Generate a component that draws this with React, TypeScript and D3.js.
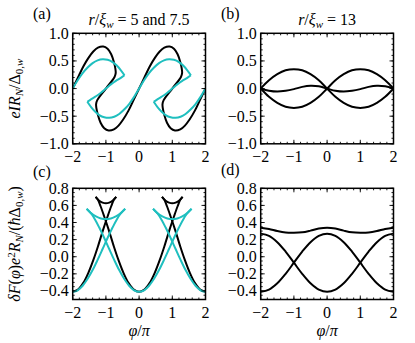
import React from "react";
import * as d3 from "d3";

type Pt = [number, number];

// axis ticks
const PHI_TICKS = [-2, -1, 0, 1, 2];
const CURRENT_TICKS = [-1, -0.5, 0, 0.5, 1];
const ENERGY_TICKS = [-0.4, -0.2, 0, 0.2, 0.4, 0.6, 0.8];

// (a) current-phase relation, black curve (one continuous multivalued curve)
const currentBlack: Pt[] = [
  [-2, 0], [-1.84, 0.2], [-1.68, 0.4], [-1.52, 0.56], [-1.38, 0.67], [-1.24, 0.74], [-1.08, 0.76],
  [-0.95, 0.72], [-0.84, 0.62], [-0.76, 0.48], [-0.715, 0.36], [-0.705, 0.28], [-0.74, 0.21],
  [-1, 0], [-1.26, -0.21], [-1.295, -0.28], [-1.285, -0.36], [-1.24, -0.48], [-1.16, -0.62],
  [-1.05, -0.72], [-0.92, -0.76], [-0.76, -0.74], [-0.62, -0.67], [-0.48, -0.56], [-0.32, -0.4],
  [-0.16, -0.2], [0, 0], [0.16, 0.2], [0.32, 0.4], [0.48, 0.56], [0.62, 0.67], [0.76, 0.74],
  [0.92, 0.76], [1.05, 0.72], [1.16, 0.62], [1.24, 0.48], [1.285, 0.36], [1.295, 0.28], [1.26, 0.21],
  [1, 0], [0.74, -0.21], [0.705, -0.28], [0.715, -0.36], [0.76, -0.48], [0.84, -0.62], [0.95, -0.72],
  [1.08, -0.76], [1.24, -0.74], [1.38, -0.67], [1.52, -0.56], [1.68, -0.4], [1.84, -0.2], [2, 0],
];

// (a) cyan curve, split at its sharp corners
const currentCyanUpperLeft: Pt[] = [
  [-2, 0], [-1.85, 0.15], [-1.7, 0.28], [-1.55, 0.38], [-1.4, 0.46], [-1.25, 0.51], [-1.1, 0.53],
  [-0.95, 0.52], [-0.8, 0.48], [-0.68, 0.42], [-0.56, 0.34], [-0.44, 0.24],
];
const currentCyanInnerLeft: Pt[] = [
  [-0.44, 0.24], [-0.56, 0.19], [-0.7, 0.14], [-0.85, 0.075], [-1, 0], [-1.15, -0.075], [-1.3, -0.14],
  [-1.44, -0.19], [-1.56, -0.24],
];
const currentCyanMiddle: Pt[] = [
  [-1.56, -0.24], [-1.44, -0.34], [-1.32, -0.42], [-1.2, -0.48], [-1.05, -0.52], [-0.9, -0.53],
  [-0.75, -0.51], [-0.6, -0.46], [-0.45, -0.38], [-0.3, -0.28], [-0.15, -0.15], [0, 0],
  [0.15, 0.15], [0.3, 0.28], [0.45, 0.38], [0.6, 0.46], [0.75, 0.51], [0.9, 0.53], [1.05, 0.52],
  [1.2, 0.48], [1.32, 0.42], [1.44, 0.34], [1.56, 0.24],
];
const currentCyanInnerRight: Pt[] = [
  [1.56, 0.24], [1.44, 0.19], [1.3, 0.14], [1.15, 0.075], [1, 0], [0.85, -0.075], [0.7, -0.14],
  [0.56, -0.19], [0.44, -0.24],
];
const currentCyanLowerRight: Pt[] = [
  [0.44, -0.24], [0.56, -0.34], [0.68, -0.42], [0.8, -0.48], [0.95, -0.52], [1.1, -0.53],
  [1.25, -0.51], [1.4, -0.46], [1.55, -0.38], [1.7, -0.28], [1.85, -0.15], [2, 0],
];

// (b) current, r/xi = 13
const current13Big: Pt[] = [
  [-2, 0], [-1.75, 0.15], [-1.5, 0.26], [-1.25, 0.33], [-1, 0.35], [-0.75, 0.33], [-0.5, 0.26],
  [-0.25, 0.15], [0, 0], [0.25, -0.15], [0.5, -0.26], [0.75, -0.33], [1, -0.35], [1.25, -0.33],
  [1.5, -0.26], [1.75, -0.15], [2, 0],
];
const current13BigMirror: Pt[] = [
  [-2, 0], [-1.75, -0.15], [-1.5, -0.26], [-1.25, -0.33], [-1, -0.35], [-0.75, -0.33], [-0.5, -0.26],
  [-0.25, -0.15], [0, 0], [0.25, 0.15], [0.5, 0.26], [0.75, 0.33], [1, 0.35], [1.25, 0.33],
  [1.5, 0.26], [1.75, 0.15], [2, 0],
];
const current13Small: Pt[] = [
  [-2, 0], [-1.75, -0.04], [-1.5, -0.055], [-1.25, -0.04], [-1, -0.01], [-0.75, 0.03], [-0.5, 0.05],
  [-0.25, 0.04], [0, 0], [0.25, -0.04], [0.5, -0.055], [0.75, -0.04], [1, -0.01], [1.25, 0.03],
  [1.5, 0.05], [1.75, 0.04], [2, 0],
];

// (c) free energy, black: branches and swallowtail arcs
const energyBlackLeft: Pt[] = [
  [-2, -0.41], [-1.84, -0.384], [-1.68, -0.306], [-1.52, -0.18], [-1.38, -0.04], [-1.24, 0.12],
  [-1.08, 0.32], [-0.95, 0.47], [-0.84, 0.59], [-0.76, 0.665], [-0.69, 0.7],
];
const energyBlackArcLeft: Pt[] = [
  [-1.31, 0.7], [-1.2, 0.655], [-1.1, 0.633], [-1, 0.625], [-0.9, 0.633], [-0.8, 0.655], [-0.69, 0.7],
];
const energyBlackCentre: Pt[] = [
  [-1.31, 0.7], [-1.24, 0.665], [-1.16, 0.59], [-1.05, 0.47], [-0.92, 0.32], [-0.76, 0.12],
  [-0.62, -0.04], [-0.48, -0.18], [-0.32, -0.306], [-0.16, -0.384], [0, -0.41], [0.16, -0.384],
  [0.32, -0.306], [0.48, -0.18], [0.62, -0.04], [0.76, 0.12], [0.92, 0.32], [1.05, 0.47],
  [1.16, 0.59], [1.24, 0.665], [1.31, 0.7],
];
const energyBlackArcRight: Pt[] = [
  [0.69, 0.7], [0.8, 0.655], [0.9, 0.633], [1, 0.625], [1.1, 0.633], [1.2, 0.655], [1.31, 0.7],
];
const energyBlackRight: Pt[] = [
  [0.69, 0.7], [0.76, 0.665], [0.84, 0.59], [0.95, 0.47], [1.08, 0.32], [1.24, 0.12], [1.38, -0.04],
  [1.52, -0.18], [1.68, -0.306], [1.84, -0.384], [2, -0.41],
];

// (c) free energy, cyan
const energyCyanLeft: Pt[] = [
  [-2, -0.41], [-1.85, -0.392], [-1.7, -0.339], [-1.55, -0.258], [-1.4, -0.156], [-1.25, -0.037],
  [-1.1, 0.09], [-0.95, 0.219], [-0.8, 0.341], [-0.68, 0.43], [-0.56, 0.503], [-0.42, 0.56],
];
const energyCyanArcLeft: Pt[] = [
  [-1.58, 0.56], [-1.45, 0.51], [-1.3, 0.472], [-1.15, 0.448], [-1, 0.44], [-0.85, 0.448],
  [-0.7, 0.472], [-0.55, 0.51], [-0.42, 0.56],
];
const energyCyanCentre: Pt[] = [
  [-1.58, 0.56], [-1.44, 0.503], [-1.32, 0.43], [-1.2, 0.341], [-1.05, 0.219], [-0.9, 0.09],
  [-0.75, -0.037], [-0.6, -0.156], [-0.45, -0.258], [-0.3, -0.339], [-0.15, -0.392], [0, -0.41],
  [0.15, -0.392], [0.3, -0.339], [0.45, -0.258], [0.6, -0.156], [0.75, -0.037], [0.9, 0.09],
  [1.05, 0.219], [1.2, 0.341], [1.32, 0.43], [1.44, 0.503], [1.58, 0.56],
];
const energyCyanArcRight: Pt[] = [
  [0.42, 0.56], [0.55, 0.51], [0.7, 0.472], [0.85, 0.448], [1, 0.44], [1.15, 0.448], [1.3, 0.472],
  [1.45, 0.51], [1.58, 0.56],
];
const energyCyanRight: Pt[] = [
  [0.42, 0.56], [0.56, 0.503], [0.68, 0.43], [0.8, 0.341], [0.95, 0.219], [1.1, 0.09], [1.25, -0.037],
  [1.4, -0.156], [1.55, -0.258], [1.7, -0.339], [1.85, -0.392], [2, -0.41],
];

// (d) free energy, r/xi = 13
const energy13Top: Pt[] = [
  [-2, 0.34], [-1.75, 0.325], [-1.5, 0.3], [-1.25, 0.283], [-1, 0.28], [-0.75, 0.285], [-0.5, 0.305],
  [-0.25, 0.33], [0, 0.34], [0.25, 0.33], [0.5, 0.305], [0.75, 0.285], [1, 0.28], [1.25, 0.283],
  [1.5, 0.3], [1.75, 0.325], [2, 0.34],
];
const energy13Bowl: Pt[] = [
  [-2, 0.27], [-1.75, 0.244], [-1.5, 0.17], [-1.25, 0.06], [-1, -0.07], [-0.75, -0.2], [-0.5, -0.31],
  [-0.25, -0.384], [0, -0.41], [0.25, -0.384], [0.5, -0.31], [0.75, -0.2], [1, -0.07], [1.25, 0.06],
  [1.5, 0.17], [1.75, 0.244], [2, 0.27],
];
const energy13Cap: Pt[] = [
  [-2, -0.41], [-1.75, -0.384], [-1.5, -0.31], [-1.25, -0.2], [-1, -0.07], [-0.75, 0.06], [-0.5, 0.17],
  [-0.25, 0.244], [0, 0.27], [0.25, 0.244], [0.5, 0.17], [0.75, 0.06], [1, -0.07], [1.25, -0.2],
  [1.5, -0.31], [1.75, -0.384], [2, -0.41],
];

const BLACK = "#000";
const CYAN = "#1fbfbf";
const FONT = "Liberation Serif, DejaVu Serif, serif";

type Series = { pts: Pt[]; color: string };

const fmt = (v: number) => (v < 0 ? "\u2212" : "") + d3.format(".1f")(Math.abs(v));

function Panel(props: {
  id: string;
  left: number;
  top: number;
  right: number;
  bottom: number;
  yDomain: [number, number];
  yTicks: number[];
  yMinorStep: number;
  series: Series[];
}) {
  const { id, left, top, right, bottom, yDomain, yTicks, yMinorStep, series } = props;
  const x = d3.scaleLinear().domain([-2, 2]).range([left, right]);
  const y = d3.scaleLinear().domain(yDomain).range([bottom, top]);
  const line = d3
    .line<Pt>()
    .x((d) => x(d[0]))
    .y((d) => y(d[1]))
    .curve(d3.curveCatmullRom.alpha(0.5));

  const xMinor = d3.range(-2, 2.0001, 0.2);
  const yMinor = d3.range(yDomain[0], yDomain[1] + 1e-6, yMinorStep);

  return (
    <g>
      <defs>
        <clipPath id={id}>
          <rect x={left} y={top} width={right - left} height={bottom - top} />
        </clipPath>
      </defs>
      <g clipPath={`url(#${id})`}>
        {series.map((s, i) => (
          <path key={i} d={line(s.pts) || ""} fill="none" stroke={s.color} strokeWidth={2} strokeLinejoin="round" />
        ))}
      </g>
      <g stroke="#000" strokeWidth={0.9}>
        {xMinor.map((v, i) => (
          <g key={"xm" + i}>
            <line x1={x(v)} x2={x(v)} y1={bottom} y2={bottom - 2} />
            <line x1={x(v)} x2={x(v)} y1={top} y2={top + 2} />
          </g>
        ))}
        {PHI_TICKS.map((v) => (
          <g key={"xM" + v}>
            <line x1={x(v)} x2={x(v)} y1={bottom} y2={bottom - 4} />
            <line x1={x(v)} x2={x(v)} y1={top} y2={top + 4} />
          </g>
        ))}
        {yMinor.map((v, i) => (
          <g key={"ym" + i}>
            <line x1={left} x2={left + 2} y1={y(v)} y2={y(v)} />
            <line x1={right} x2={right - 2} y1={y(v)} y2={y(v)} />
          </g>
        ))}
        {yTicks.map((v) => (
          <g key={"yM" + v}>
            <line x1={left} x2={left + 4} y1={y(v)} y2={y(v)} />
            <line x1={right} x2={right - 4} y1={y(v)} y2={y(v)} />
          </g>
        ))}
      </g>
      <rect x={left} y={top} width={right - left} height={bottom - top} fill="none" stroke="#000" strokeWidth={1.5} />
      <g style={{ fontFamily: FONT, fontSize: 16 }}>
        {PHI_TICKS.map((v) => (
          <text key={"xl" + v} x={x(v)} y={bottom + 18} textAnchor="middle">
            {v < 0 ? "\u2212" + Math.abs(v) : String(v)}
          </text>
        ))}
        {yTicks.map((v) => (
          <text key={"yl" + v} x={left - 4} y={y(v) + 5.5} textAnchor="end">
            {fmt(v)}
          </text>
        ))}
      </g>
    </g>
  );
}

export default function App() {
  const top1 = 33.3;
  const bottom1 = 143.8;
  const top2 = 188.3;
  const bottom2 = 299.5;
  const leftA = 72.7;
  const rightA = 205.5;
  const leftB = 260.7;
  const rightB = 393.5;
  const sub = { fontSize: 11 };

  return (
    <svg width={415} height={343} style={{ position: "absolute", left: 0, top: 0, background: "#fff" }}>
      <Panel
        id="pa"
        left={leftA}
        top={top1}
        right={rightA}
        bottom={bottom1}
        yDomain={[-1, 1]}
        yTicks={CURRENT_TICKS}
        yMinorStep={0.1}
        series={[
          { pts: currentBlack, color: BLACK },
          { pts: currentCyanUpperLeft, color: CYAN },
          { pts: currentCyanInnerLeft, color: CYAN },
          { pts: currentCyanMiddle, color: CYAN },
          { pts: currentCyanInnerRight, color: CYAN },
          { pts: currentCyanLowerRight, color: CYAN },
        ]}
      />
      <Panel
        id="pb"
        left={leftB}
        top={top1}
        right={rightB}
        bottom={bottom1}
        yDomain={[-1, 1]}
        yTicks={CURRENT_TICKS}
        yMinorStep={0.1}
        series={[
          { pts: current13Big, color: BLACK },
          { pts: current13BigMirror, color: BLACK },
          { pts: current13Small, color: BLACK },
        ]}
      />
      <Panel
        id="pc"
        left={leftA}
        top={top2}
        right={rightA}
        bottom={bottom2}
        yDomain={[-0.5, 0.8]}
        yTicks={ENERGY_TICKS}
        yMinorStep={0.05}
        series={[
          { pts: energyBlackLeft, color: BLACK },
          { pts: energyBlackArcLeft, color: BLACK },
          { pts: energyBlackCentre, color: BLACK },
          { pts: energyBlackArcRight, color: BLACK },
          { pts: energyBlackRight, color: BLACK },
          { pts: energyCyanLeft, color: CYAN },
          { pts: energyCyanArcLeft, color: CYAN },
          { pts: energyCyanCentre, color: CYAN },
          { pts: energyCyanArcRight, color: CYAN },
          { pts: energyCyanRight, color: CYAN },
        ]}
      />
      <Panel
        id="pd"
        left={leftB}
        top={top2}
        right={rightB}
        bottom={bottom2}
        yDomain={[-0.5, 0.8]}
        yTicks={ENERGY_TICKS}
        yMinorStep={0.05}
        series={[
          { pts: energy13Top, color: BLACK },
          { pts: energy13Bowl, color: BLACK },
          { pts: energy13Cap, color: BLACK },
        ]}
      />

      <g style={{ fontFamily: FONT, fontSize: 16 }} fill="#000">
        <text x={33} y={19}>(a)</text>
        <text x={221} y={19}>(b)</text>
        <text x={33} y={177}>(c)</text>
        <text x={221} y={175}>(d)</text>

        <text x={(leftA + rightA) / 2} y={25} textAnchor="middle">
          <tspan fontStyle="italic">r</tspan>/<tspan fontStyle="italic">ξ</tspan>
          <tspan fontStyle="italic" {...sub} dy={3}>w</tspan>
          <tspan dy={-3}> = 5 and 7.5</tspan>
        </text>
        <text x={(leftB + rightB) / 2} y={25} textAnchor="middle">
          <tspan fontStyle="italic">r</tspan>/<tspan fontStyle="italic">ξ</tspan>
          <tspan fontStyle="italic" {...sub} dy={3}>w</tspan>
          <tspan dy={-3}> = 13</tspan>
        </text>

        <text transform={`translate(20,${(top1 + bottom1) / 2}) rotate(-90)`} textAnchor="middle">
          <tspan fontStyle="italic">eIR</tspan>
          <tspan fontStyle="italic" {...sub} dy={3}>N</tspan>
          <tspan dy={-3}>/Δ</tspan>
          <tspan {...sub} dy={3}>0,</tspan>
          <tspan fontStyle="italic" {...sub}>w</tspan>
        </text>

        <text transform={`translate(20,${(top2 + bottom2) / 2}) rotate(-90)`} textAnchor="middle">
          <tspan fontStyle="italic">δF</tspan>(<tspan fontStyle="italic">φ</tspan>)<tspan fontStyle="italic">e</tspan>
          <tspan {...sub} dy={-5}>2</tspan>
          <tspan fontStyle="italic" dy={5}>R</tspan>
          <tspan fontStyle="italic" {...sub} dy={3}>N</tspan>
          <tspan dy={-3}>/(</tspan>
          <tspan fontStyle="italic">ħ</tspan>Δ
          <tspan {...sub} dy={3}>0,</tspan>
          <tspan fontStyle="italic" {...sub}>w</tspan>
          <tspan dy={-3}>)</tspan>
        </text>

        <text x={(leftA + rightA) / 2} y={336} textAnchor="middle">
          <tspan fontStyle="italic">φ</tspan>/<tspan fontStyle="italic">π</tspan>
        </text>
        <text x={(leftB + rightB) / 2} y={336} textAnchor="middle">
          <tspan fontStyle="italic">φ</tspan>/<tspan fontStyle="italic">π</tspan>
        </text>
      </g>
    </svg>
  );
}
